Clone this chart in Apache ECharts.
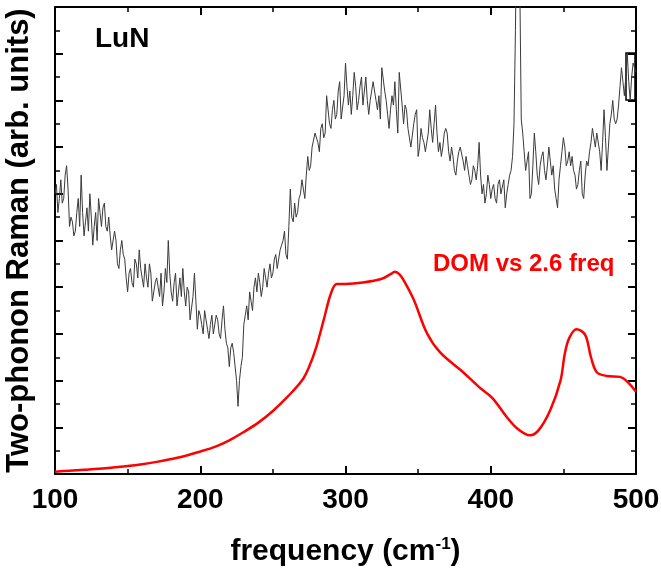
<!DOCTYPE html>
<html>
<head>
<meta charset="utf-8">
<script src="https://cdn.jsdelivr.net/npm/echarts@6/dist/echarts.min.js"></script>
<style>
  html, body { margin: 0; padding: 0; background: #fff; }
  #chart { width: 661px; height: 572px; }
</style>
</head>
<body>
<div id="chart"></div>
<script>
// Raman spectrum, one value per cm-1 starting at 100
const ramanStart = 100;
const ramanStep = 1;
const ramanValues = [
  6.0, 6.2, 5.6, 5.9, 6.3, 5.8, 5.9, 6.4, 6.6, 6.1,
  5.3, 5.5, 5.4, 5.1, 5.2, 5.6, 5.9, 5.3, 6.4, 5.6,
  5.1, 5.4, 5.7, 5.2, 6.0, 5.5, 4.9, 5.3, 5.6, 5.0,
  5.9, 5.6, 5.3, 5.7, 5.8, 5.3, 5.2, 5.5, 5.1, 4.8,
  4.8, 5.2, 5.0, 4.5, 4.4, 4.8, 5.0, 4.7, 4.6, 4.2,
  3.9, 4.3, 4.4, 4.1, 4.0, 4.6, 4.5, 4.2, 4.8, 4.4,
  4.2, 4.0, 4.5, 4.2, 4.0, 4.5, 4.3, 3.7, 3.7, 4.1,
  4.2, 4.0, 3.8, 4.3, 3.6, 3.9, 4.4, 4.1, 5.0, 4.3,
  3.9, 3.7, 4.1, 4.3, 3.6, 3.9, 4.2, 3.8, 4.4, 3.9,
  3.6, 4.0, 3.9, 3.3, 3.3, 3.8, 4.3, 3.7, 3.1, 3.5,
  3.4, 3.2, 3.0, 3.5, 3.3, 3.1, 2.9, 3.2, 3.4, 3.0,
  3.0, 3.4, 3.3, 3.0, 2.9, 3.3, 3.6, 3.1, 2.8, 2.7,
  2.3, 2.7, 2.8, 2.6, 2.6, 2.0, 1.45, 2.0, 2.3, 2.5,
  3.2, 3.4, 3.6, 3.3, 3.9, 3.7, 3.5, 4.0, 4.2, 3.9,
  4.3, 4.1, 3.8, 4.0, 4.4, 4.2, 4.0, 4.3, 4.5, 4.2,
  4.3, 4.6, 4.7, 4.4, 4.4, 4.8, 4.9, 5.0, 5.2, 4.7,
  4.6, 5.3, 6.1, 5.5, 5.4, 5.8, 5.5, 5.6, 5.9, 6.0,
  6.3, 6.1, 5.9, 6.4, 6.8, 6.5, 6.6, 7.0, 7.0, 7.3,
  7.3, 7.1, 6.9, 7.4, 7.5, 7.2, 7.3, 8.1, 8.1, 7.5,
  7.4, 7.8, 8.0, 7.6, 7.7, 8.2, 8.4, 7.6, 7.6, 8.1,
  8.8, 8.3, 7.9, 8.2, 7.7, 8.1, 8.6, 8.3, 7.8, 8.0,
  8.3, 8.5, 7.9, 8.2, 8.5, 8.0, 7.7, 8.0, 8.2, 8.4,
  8.4, 8.0, 7.8, 8.1, 7.6, 8.7, 8.7, 8.2, 8.0, 7.7,
  7.4, 7.8, 8.1, 7.9, 8.4, 7.8, 7.3, 8.6, 8.6, 7.9,
  7.5, 7.9, 7.8, 7.4, 7.2, 7.0, 7.0, 7.5, 7.7, 7.8,
  6.8, 7.0, 7.4, 7.2, 7.1, 6.9, 6.9, 7.3, 7.8, 7.4,
  7.1, 7.5, 7.9, 7.3, 6.9, 7.1, 6.8, 7.0, 7.3, 7.4,
  7.3, 6.9, 6.7, 7.0, 6.8, 6.5, 6.4, 6.7, 6.9, 7.0,
  7.0, 6.7, 6.5, 6.8, 6.6, 6.4, 6.2, 6.3, 6.6, 6.5,
  6.3, 6.6, 7.1, 6.4, 6.0, 6.2, 5.8, 6.0, 6.4, 6.2,
  5.9, 6.1, 6.2, 5.9, 5.8, 6.2, 6.3, 6.0, 6.0, 6.3,
  5.7, 6.0, 6.2, 6.4, 6.5, 6.8, 7.5, 9.5, 12.5, 13.0,
  10.5, 7.6, 7.3, 6.9, 6.5, 6.7, 6.9, 5.9, 6.0, 6.6,
  7.3, 6.9, 6.4, 6.2, 6.6, 6.8, 6.9, 6.5, 6.3, 6.6,
  7.0, 6.7, 6.4, 6.6, 6.1, 5.9, 5.7, 6.3, 6.6, 6.9,
  7.2, 7.0, 6.6, 6.7, 6.9, 6.6, 6.8, 6.5, 6.4, 6.1,
  6.2, 6.5, 6.7, 6.0, 5.9, 6.4, 6.7, 6.6, 6.9, 7.1,
  7.4, 7.2, 7.0, 7.3, 7.3, 6.9, 6.5, 7.1, 7.8, 7.2,
  6.5, 7.0, 7.5, 7.7, 8.0, 7.6, 7.5, 7.6, 7.9, 8.3,
  8.7, 8.4, 8.1, 8.5, 9.0, 8.4, 8.0, 8.5, 8.8, 8.7,
  8.6
];

// DOM curve (frequency, value)
const domFreq = [100, 110, 120, 130, 140, 150, 160, 170, 180, 190, 200, 210, 220, 230, 240, 250, 260, 270, 275, 280, 285, 290, 294, 300, 312, 325, 331, 334, 337, 340, 347, 356, 365, 381, 392, 401, 411, 418, 427, 433, 441, 448, 451, 454, 459, 465, 469, 473, 480, 489, 500];
const domValues = [0.05, 0.07, 0.09, 0.11, 0.14, 0.17, 0.21, 0.26, 0.32, 0.39, 0.48, 0.58, 0.72, 0.9, 1.1, 1.35, 1.65, 2.0, 2.3, 2.73, 3.3, 3.87, 4.07, 4.07, 4.1, 4.18, 4.28, 4.33, 4.28, 4.15, 3.73, 3.02, 2.61, 2.18, 1.86, 1.63, 1.22, 0.98, 0.83, 0.94, 1.37, 2.0, 2.58, 2.91, 3.1, 2.98, 2.5, 2.18, 2.1, 2.08, 1.76];

const xTicks = [100, 200, 300, 400, 500];

const ramanData = ramanValues.map((v, i) => [ramanStart + i * ramanStep, v]);
const domData = domFreq.map((f, i) => [f, domValues[i]]);

const font = "Liberation Sans";
let chart = echarts.init(document.getElementById("chart"));

const frameLine = { show: true, onZero: false, lineStyle: { color: "#000", width: 2 } };
const tick = { show: true, inside: true, length: 8, lineStyle: { color: "#000", width: 2 } };
const minor = { show: true, splitNumber: 2, length: 5, lineStyle: { color: "#000", width: 1.5 } };

let option = {
  animation: false,
  grid: { left: 55, right: 25, top: 7, bottom: 98, outerBoundsMode: "none", containLabel: false },
  xAxis: [
    {
      type: "value",
      min: xTicks[0],
      max: xTicks[xTicks.length - 1],
      interval: 100,
      position: "bottom",
      axisLine: frameLine,
      axisTick: tick,
      minorTick: minor,
      splitLine: { show: false },
      axisLabel: { color: "#000", fontSize: 28, fontWeight: "bold", fontFamily: font, margin: 12 },
      name: "{a|frequency (cm}{s|-1}{a|)}",
      nameLocation: "middle",
      nameGap: 62,
      nameTextStyle: {
        rich: {
          a: { fontSize: 30, fontWeight: "bold", fontFamily: font, color: "#000" },
          s: { fontSize: 17, fontWeight: "bold", fontFamily: font, color: "#000", verticalAlign: "top", padding: [0, 0, 14, 0] },
        },
      },
    },
    {
      type: "value",
      min: 100,
      max: 500,
      interval: 100,
      position: "top",
      axisLine: frameLine,
      axisTick: tick,
      minorTick: minor,
      splitLine: { show: false },
      axisLabel: { show: false },
    },
  ],
  yAxis: [
    {
      type: "value",
      min: 0,
      max: 10,
      interval: 1,
      position: "left",
      axisLine: frameLine,
      axisTick: tick,
      minorTick: minor,
      splitLine: { show: false },
      axisLabel: { show: false },
      name: "Two-phonon Raman (arb. units)",
      nameLocation: "middle",
      nameGap: 20,
      nameTextStyle: { fontSize: 31, fontWeight: "bold", fontFamily: font, color: "#000" },
    },
    {
      type: "value",
      min: 0,
      max: 10,
      interval: 1,
      position: "right",
      axisLine: frameLine,
      axisTick: tick,
      minorTick: minor,
      splitLine: { show: false },
      axisLabel: { show: false },
    },
  ],
  series: [
    {
      name: "Raman",
      type: "line",
      data: ramanData,
      showSymbol: false,
      clip: true,
      lineStyle: { color: "#3a3a3a", width: 1 },
      z: 2,
    },
    {
      name: "DOM",
      type: "line",
      data: domData,
      smooth: 0.35,
      showSymbol: false,
      clip: true,
      lineStyle: { color: "#ff0000", width: 2.5 },
      z: 3,
    },
  ],
  graphic: [
    {
      type: "text",
      left: 95,
      top: 25,
      style: { text: "LuN", font: "bold 28px " + font, fill: "#000" },
    },
    {
      type: "text",
      left: 433,
      top: 252,
      style: { text: "DOM vs 2.6 freq", font: "bold 24px " + font, fill: "#ff0000" },
    },
    {
      type: "rect",
      shape: { x: 626, y: 53, width: 9, height: 47 },
      style: { fill: "none", stroke: "#000", lineWidth: 1.5 },
    },
  ],
};

chart.setOption(option);
</script>
</body>
</html>
